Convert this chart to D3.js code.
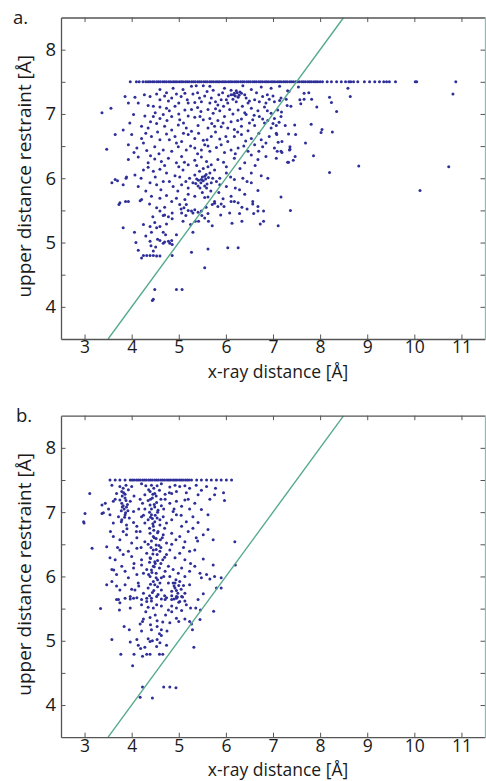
<!DOCTYPE html>
<html>
<head>
<meta charset="utf-8">
<script src="https://cdn.jsdelivr.net/npm/d3@7"></script>
<style>
  body { margin: 0; background: #fff; }
  svg { display: block; font-family: "Open Sans", sans-serif; }
</style>
</head>
<body>
<svg id="chart" width="486" height="781"></svg>
<script>
// ---- data ----
var xTicks = [3, 4, 5, 6, 7, 8, 9, 10, 11];
var yTicks = [4, 4.5, 5, 5.5, 6, 6.5, 7, 7.5, 8];
var diagLine = [3.5, 8.5];   // y = x reference line
var capValue = 7.5;          // restraints capped at 7.5 Å

// panel a: points sitting on the 7.5 Å cap (x-ray distance)
var capA = [3.97,4.10,4.16,4.24,4.30,4.35,4.39,4.44,4.48,4.53,4.57,4.61,4.66,4.70,4.74,4.79,4.83,4.88,4.92,4.96,
  5.01,5.05,5.09,5.14,5.18,5.22,5.27,5.31,5.35,5.40,5.44,5.48,5.53,5.57,5.61,5.66,5.70,5.74,5.79,5.83,5.87,5.92,5.96,
  6.00,6.05,6.09,6.13,6.18,6.22,6.26,6.31,6.35,6.39,6.44,6.48,6.52,6.57,6.61,6.65,6.70,6.74,6.78,6.83,6.87,6.91,6.96,
  7.00,7.04,7.09,7.13,7.17,7.22,7.26,7.30,7.35,7.39,7.43,7.48,7.52,7.56,7.61,7.65,7.69,7.74,7.78,7.82,7.87,7.91,7.95,
  8.00,8.05,8.15,8.24,8.35,8.45,8.54,8.61,8.65,8.71,8.80,8.94,9.05,9.16,9.26,9.35,9.41,9.47,9.60,10.02,10.05,10.88];

// panel a: other points [x-ray distance, upper restraint]
var ptsA = [
  [4.60,7.38],[4.74,7.33],[4.88,7.40],[5.09,7.38],[5.27,7.43],[5.37,7.44],[5.52,7.44],[5.66,7.43],[5.73,7.37],[5.97,7.40],
  [6.11,7.37],[6.36,7.44],[6.54,7.38],[6.75,7.42],[6.96,7.40],[7.14,7.43],[7.31,7.36],
  [4.27,7.30],[4.53,7.31],[4.70,7.28],[4.95,7.31],[5.13,7.32],[5.30,7.31],[5.44,7.25],[5.55,7.28],[5.69,7.25],[5.78,7.19],
  [5.90,7.22],[6.11,7.30],[6.18,7.32],[6.26,7.26],[6.33,7.32],[6.43,7.25],[6.61,7.22],[6.78,7.27],[6.92,7.23],[7.03,7.19],[7.17,7.25],
  [3.86,7.27],[4.07,7.26],[4.39,7.27],[4.60,7.22],[4.85,7.25],[5.00,7.17],[5.20,7.17],[5.34,7.18],[5.48,7.19],[5.66,7.17],
  [5.83,7.14],[6.01,7.22],[6.04,7.17],[6.15,7.23],[6.22,7.19],[6.47,7.17],[6.71,7.19],[6.85,7.17],[7.14,7.21],[7.28,7.23],
  [3.93,7.17],[4.14,7.17],[4.35,7.13],[4.46,7.12],[4.60,7.11],[4.74,7.09],[4.92,7.12],[5.13,7.06],[5.27,7.07],[5.47,7.04],
  [5.62,7.07],[5.73,7.01],[5.87,7.05],[6.08,7.07],[6.26,7.06],[6.40,7.02],[6.54,7.09],[6.68,7.05],[6.82,7.11],[6.96,7.01],
  [7.10,7.06],[7.38,7.12],[3.37,7.02],[3.56,7.09],
  [4.04,6.99],[4.28,6.97],[4.46,6.96],[4.60,6.93],[4.67,6.99],[4.85,6.96],[5.02,6.91],[5.20,6.97],[5.34,6.95],[5.52,6.91],
  [5.66,6.93],[5.83,6.90],[5.97,6.96],[6.11,6.88],[6.33,6.92],[6.43,6.99],[6.57,6.91],[6.71,6.96],[6.89,6.90],[7.03,6.93],[7.17,6.96],
  [3.96,6.86],[4.21,6.81],[4.35,6.78],[4.53,6.85],[4.70,6.81],[4.85,6.75],[4.99,6.83],[5.16,6.78],[5.27,6.73],[5.41,6.82],
  [5.62,6.78],[5.76,6.81],[5.94,6.86],[6.04,6.78],[6.18,6.76],[6.33,6.81],[6.47,6.74],[6.61,6.82],[6.82,6.86],[6.96,6.78],
  [7.07,6.82],[3.82,6.75],[3.65,6.68],
  [4.00,6.68],[4.21,6.62],[4.42,6.65],[4.60,6.60],[4.74,6.69],[4.92,6.65],[5.06,6.57],[5.20,6.68],[5.34,6.62],[5.52,6.59],
  [5.69,6.65],[5.87,6.61],[6.04,6.57],[6.18,6.65],[6.33,6.68],[6.54,6.62],[6.75,6.60],[6.92,6.65],[7.07,6.70],
  [3.93,6.52],[4.11,6.47],[4.32,6.43],[4.49,6.49],[4.67,6.44],[4.85,6.42],[4.99,6.49],[5.16,6.44],[5.34,6.47],[5.48,6.44],
  [5.55,6.52],[5.66,6.42],[5.80,6.48],[5.97,6.40],[6.11,6.44],[6.26,6.47],[6.47,6.42],[6.61,6.52],[6.78,6.49],[7.03,6.47],
  [7.17,6.42],[7.35,6.44],[3.47,6.45],
  [3.93,6.29],[4.14,6.33],[4.35,6.24],[4.49,6.30],[4.63,6.26],[4.78,6.31],[4.95,6.24],[5.06,6.34],[5.20,6.21],[5.34,6.28],
  [5.48,6.33],[5.59,6.26],[5.69,6.21],[5.83,6.29],[6.01,6.18],[6.18,6.31],[6.40,6.24],[6.54,6.36],[6.68,6.29],[6.85,6.34],
  [7.07,6.31],[7.31,6.25],
  [3.65,5.98],[3.89,6.02],[4.07,6.05],[4.25,6.13],[4.35,6.17],[4.46,6.11],[4.60,6.14],[4.74,6.08],[4.92,6.04],[5.09,6.13],
  [5.23,6.00],[5.34,6.05],[5.44,6.11],[5.55,6.03],[5.66,6.08],[5.76,6.13],[5.87,6.00],[6.01,6.08],[6.18,5.98],[6.36,6.00],
  [6.54,6.08],[6.75,6.04],[6.89,6.00],
  [3.58,5.93],[3.82,5.90],[4.14,5.87],[4.39,5.93],[4.53,5.90],[4.67,5.95],[4.88,5.87],[5.06,5.90],[5.20,5.85],[5.30,5.93],
  [5.41,5.88],[5.48,5.98],[5.59,5.85],[5.69,5.93],[5.87,5.90],[6.01,5.87],[6.29,5.82],[6.54,5.93],[6.68,5.81],
  [3.75,5.62],[3.93,5.64],[4.21,5.67],[4.42,5.72],[4.60,5.69],[4.74,5.73],[4.85,5.64],[4.95,5.69],[5.02,5.59],[5.13,5.67],
  [5.34,5.72],[5.62,5.71],[5.76,5.64],[5.94,5.68],[6.11,5.72],[6.26,5.62],[6.57,5.64],[6.68,5.56],[7.17,5.71],
  [5.42,5.97],[5.47,5.93],[5.52,5.96],[5.57,5.99],[5.60,5.91],[5.38,5.99],[5.50,6.02],[5.63,6.01],[5.45,5.85],[5.55,5.88],
  [6.20,7.28],[6.24,7.33],[6.28,7.29],[6.22,7.36],[6.30,7.34],[6.16,7.30],[3.70,5.96],[3.88,6.00],
  [3.73,5.59],[3.87,5.64],[4.18,5.65],[4.53,5.54],[4.60,5.49],[4.70,5.43],[4.67,5.42],[4.86,5.46],[4.86,5.37],[5.06,5.46],
  [5.11,5.54],[5.16,5.59],[5.27,5.49],[5.30,5.46],[5.34,5.51],[5.41,5.47],[5.48,5.49],[5.49,5.42],[5.62,5.45],[5.71,5.59],
  [5.76,5.61],[5.83,5.56],[5.89,5.43],[5.96,5.56],[6.08,5.46],[6.11,5.64],[6.18,5.64],[6.29,5.45],[6.34,5.55],[6.45,5.52],
  [6.57,5.60],[6.59,5.45],[6.68,5.49],[6.80,5.49],[7.37,5.50],
  [3.82,5.23],[4.06,5.16],[4.25,5.28],[4.39,5.25],[4.42,5.16],[4.49,5.31],[4.53,5.23],[4.60,5.25],[4.67,5.16],[4.74,5.29],
  [4.95,5.12],[5.09,5.33],[5.25,5.28],[5.30,5.16],[5.35,5.33],[5.42,5.33],[5.63,5.33],[5.71,5.26],[6.13,5.30],[6.34,5.33],
  [6.73,5.29],[6.80,5.33],[7.11,5.26],
  [4.09,5.00],[4.14,4.88],[4.39,5.02],[4.41,4.95],[4.46,4.87],[4.51,4.93],[4.60,5.03],[4.67,4.99],[4.70,5.01],[4.78,5.02],
  [4.81,4.99],[4.85,5.03],[4.86,4.97],[4.21,4.76],[4.25,4.80],[4.32,4.80],[4.39,4.80],[4.46,4.80],[4.53,4.79],[4.60,4.79],
  [4.86,4.80],[5.27,4.85],[5.62,4.90],[6.04,4.92],[6.26,4.92],[5.55,4.61],[4.49,4.27],[4.95,4.27],[5.07,4.27],[4.46,4.12],[4.44,4.10],
  [10.82,7.31],[8.59,7.40],[8.64,7.27],[8.20,7.26],[8.24,7.18],[7.93,7.11],[8.35,7.04],[7.81,6.84],[8.04,6.76],[8.02,6.71],
  [8.26,6.72],[7.69,6.55],[7.86,6.35],[8.20,6.09],[8.82,6.19],[10.73,6.18],[10.12,5.81],[7.47,6.34],[7.43,6.28],[7.33,6.25],
  [7.36,6.49],[7.36,6.45],[7.26,6.82],[7.46,6.83],[7.48,6.68],[7.33,6.69],[7.66,7.32],[7.76,7.33],[7.82,7.23],[7.66,7.23],
  [7.57,7.22],[7.59,7.16],[7.30,7.13],[7.18,7.03],[7.13,6.87],[7.08,6.68],[7.11,6.56],[7.19,6.57],[7.09,6.42],[7.19,6.40],
  [7.54,7.42],[7.34,7.35],
  [4.78,7.20],[5.05,7.27],[5.18,7.22],[5.40,7.33],[5.60,7.35],[5.85,7.30],[5.93,7.33],[6.05,7.28],[6.40,7.30],[6.50,7.20],
  [6.65,7.33],[6.88,7.30],[7.00,7.28],[4.50,7.02],[4.80,7.05],[5.00,7.00],[5.40,7.10],[5.78,7.08],[5.95,7.12],[6.15,7.00],
  [6.35,7.12],[6.60,6.98],[6.88,7.05],[4.40,6.88],[4.75,6.90],[5.10,6.86],[5.45,6.96],[5.70,6.85],[5.90,6.80],[6.25,6.90],
  [6.50,6.86],[6.78,6.92],[7.00,6.85],[4.30,6.70],[4.55,6.72],[4.80,6.60],[5.10,6.70],[5.42,6.70],[5.60,6.60],[5.78,6.72],
  [6.00,6.65],[6.25,6.72],[6.42,6.58],[6.70,6.70],[6.85,6.55],[4.25,6.55],[4.58,6.38],[4.95,6.55],[5.25,6.50],[5.40,6.38],
  [5.62,6.50],[5.90,6.52],[6.20,6.38],[6.38,6.50],[6.70,6.42],[4.05,6.40],[4.40,6.35],[4.70,6.20],[5.00,6.18],[5.12,6.25],
  [5.38,6.20],[5.52,6.15],[5.62,6.18],[5.95,6.25],[6.30,6.15],[6.62,6.20],[4.20,6.00],[4.50,6.02],[4.80,5.95],[5.02,6.02],
  [5.15,5.95],[5.36,5.92],[5.58,6.06],[5.72,6.00],[5.80,5.95],[6.10,6.02],[6.45,5.95],[4.30,5.80],[4.62,5.82],[4.98,5.80],
  [5.20,5.75],[5.50,5.78],[5.55,5.70],[5.68,5.80],[5.85,5.78],[6.20,5.85],[6.40,5.75],[4.38,5.60],[4.70,5.55],[5.05,5.52],
  [5.20,5.50],[5.58,5.55],[5.90,5.60],[4.45,5.40],[4.78,5.40],[5.15,5.42],[5.55,5.38],[4.30,5.10],[4.55,5.05],[4.72,5.12]
];

// panel b: points on the cap
var capB = [3.54,3.65,3.75,3.86,3.97,4.01,4.05,4.10,4.14,4.18,4.23,4.27,4.31,4.36,4.40,4.44,4.49,4.53,4.57,4.62,
  4.66,4.70,4.75,4.79,4.83,4.88,4.92,4.96,5.01,5.05,5.09,5.14,5.18,5.22,5.27,5.38,5.48,5.59,5.69,5.80,5.90,6.01,6.12];

// panel b: other points
var ptsB = [
  [3.58,7.42],[3.75,7.40],[3.82,7.37],[3.88,7.42],[4.00,7.40],[4.21,7.44],[4.30,7.41],[4.42,7.42],[4.47,7.37],[4.54,7.41],
  [4.63,7.44],[4.81,7.39],[4.92,7.42],[5.02,7.40],[5.13,7.41],[5.23,7.37],[5.37,7.42],[5.59,7.40],[5.78,7.37],[5.95,7.30],
  [3.11,7.29],[3.68,7.29],[3.79,7.32],[3.86,7.28],[3.93,7.35],[4.28,7.27],[4.39,7.32],[4.49,7.29],[4.59,7.34],[4.71,7.28],
  [4.85,7.29],[4.95,7.32],[5.16,7.30],[5.41,7.27],[5.48,7.34],[5.76,7.27],
  [3.37,7.11],[3.44,7.14],[3.51,7.05],[3.61,7.17],[3.75,7.19],[3.79,7.14],[3.82,7.10],[3.86,7.22],[3.89,7.08],[3.97,7.17],
  [4.04,7.01],[4.18,7.20],[4.23,7.14],[4.28,7.05],[4.35,7.18],[4.39,7.11],[4.44,7.22],[4.49,7.08],[4.53,7.15],[4.56,7.03],
  [4.63,7.10],[4.71,7.20],[4.81,7.14],[4.88,7.01],[4.95,7.17],[5.06,7.09],[5.13,7.19],[5.23,7.05],[5.34,7.14],[5.48,7.04],
  [5.66,7.20],[5.97,7.18],[3.40,6.99],[3.01,6.98],[2.98,6.85],[3.37,6.98],[2.99,6.83],
  [3.54,6.96],[3.61,6.83],[3.72,6.93],[3.79,6.88],[3.86,6.96],[3.89,6.80],[3.95,6.91],[4.04,6.84],[4.11,6.78],[4.21,6.93],
  [4.28,6.83],[4.35,6.88],[4.42,6.96],[4.46,6.78],[4.49,6.85],[4.54,6.91],[4.60,6.80],[4.67,6.93],[4.74,6.83],[4.85,6.88],
  [4.95,6.96],[5.06,6.78],[5.16,6.85],[5.30,6.93],[5.41,6.84],[5.62,6.96],
  [3.61,6.62],[3.75,6.57],[3.82,6.70],[3.89,6.65],[4.00,6.52],[4.11,6.60],[4.18,6.70],[4.28,6.54],[4.39,6.67],[4.46,6.62],
  [4.52,6.49],[4.56,6.70],[4.61,6.57],[4.67,6.65],[4.74,6.52],[4.85,6.67],[4.94,6.57],[5.02,6.62],[5.13,6.54],[5.20,6.70],
  [5.37,6.60],[5.52,6.65],[5.62,6.73],[5.73,6.57],[6.19,6.54],[3.16,6.44],[3.47,6.46],
  [3.54,6.29],[3.65,6.26],[3.75,6.41],[3.82,6.34],[3.93,6.39],[4.00,6.31],[4.11,6.44],[4.21,6.26],[4.32,6.36],[4.39,6.29],
  [4.46,6.41],[4.49,6.23],[4.54,6.34],[4.60,6.39],[4.66,6.26],[4.74,6.34],[4.81,6.41],[4.92,6.29],[5.02,6.36],[5.13,6.26],
  [5.23,6.39],[5.34,6.41],[5.52,6.27],[5.73,6.18],[6.20,6.18],
  [3.58,6.11],[3.68,6.03],[3.79,6.16],[3.86,6.08],[3.93,5.98],[4.04,6.13],[4.11,6.03],[4.21,6.18],[4.32,6.11],[4.39,6.00],
  [4.46,6.16],[4.52,6.05],[4.59,6.13],[4.63,5.98],[4.71,6.08],[4.78,6.16],[4.81,6.00],[4.88,6.11],[4.94,5.95],[4.99,6.05],
  [5.06,6.13],[5.13,6.00],[5.23,6.08],[5.34,6.16],[5.48,5.98],[5.59,6.03],[5.66,5.96],[5.76,6.00],[5.90,5.98],
  [3.47,5.87],[3.58,5.92],[3.75,5.79],[3.86,5.87],[3.97,5.69],[4.07,5.79],[4.14,5.90],[4.25,5.74],[4.35,5.82],[4.42,5.66],
  [4.49,5.87],[4.56,5.72],[4.63,5.79],[4.71,5.64],[4.78,5.90],[4.85,5.77],[4.90,5.85],[4.95,5.69],[5.02,5.61],[5.13,5.74],
  [5.23,5.87],[5.52,5.73],[5.80,5.82],[5.90,5.82],[3.72,5.64],[4.04,5.66],[4.32,5.61],
  [3.80,7.25],[3.84,7.05],[3.87,6.99],[3.78,7.02],[3.91,7.12],[4.38,7.00],[4.44,6.90],[4.47,6.72],[4.52,6.59],[4.41,6.45],
  [4.50,6.20],[4.43,6.06],[4.55,5.95],[4.47,5.78],[4.38,6.22],[4.58,6.48],[4.95,5.78],[5.00,5.86],[4.97,5.68],[5.05,5.80],[4.92,5.90],
  [3.68,5.64],[3.75,5.59],[3.86,5.66],[3.97,5.65],[4.11,5.67],[4.21,5.64],[4.32,5.66],[4.42,5.62],[4.53,5.69],[4.63,5.65],
  [4.74,5.67],[4.85,5.64],[4.95,5.66],[5.06,5.69],[5.13,5.62],[5.41,5.64],
  [3.34,5.50],[3.74,5.48],[3.97,5.51],[4.21,5.56],[4.35,5.52],[4.46,5.51],[4.53,5.56],[4.63,5.54],[4.78,5.48],[4.85,5.54],
  [4.95,5.51],[5.06,5.47],[5.16,5.56],[5.25,5.51],[5.36,5.51],[5.46,5.48],[5.74,5.46],
  [4.25,5.34],[4.23,5.30],[4.39,5.36],[4.54,5.31],[4.66,5.29],[4.81,5.28],[4.95,5.35],[5.13,5.34],[5.23,5.30],[5.45,5.33],
  [3.84,5.22],[3.95,5.17],[4.18,5.26],[4.42,5.17],[4.54,5.22],[4.63,5.17],[5.27,5.26],[5.29,5.17],
  [3.58,5.02],[3.97,4.98],[4.11,5.02],[4.21,5.15],[4.35,5.03],[4.39,4.99],[4.44,5.00],[4.54,5.02],[4.59,5.11],[4.63,5.08],
  [4.74,4.93],[4.14,4.93],[4.19,4.88],[4.28,4.90],[4.53,4.91],
  [3.77,4.79],[4.05,4.79],[4.23,4.76],[4.32,4.79],[4.39,4.79],[4.59,4.79],[4.66,4.79],[5.32,4.90],[4.02,4.61],
  [4.23,4.28],[4.68,4.28],[4.81,4.28],[4.94,4.27],[4.18,4.12],[4.44,4.11],
  [3.83,7.30],[3.88,7.18],[3.80,7.08],[3.92,7.02],[3.85,6.92],[3.78,6.85],[3.90,6.74],
  [4.36,7.35],[4.45,7.28],[4.40,7.20],[4.52,7.25],[4.48,7.12],[4.42,7.05],[4.55,7.00],[4.40,6.92],[4.50,6.95],[4.45,6.82],
  [4.38,6.75],[4.55,6.68],[4.48,6.60],[4.42,6.55],[4.35,6.50],[4.52,6.42],[4.45,6.35],[4.40,6.28],[4.55,6.25],[4.48,6.15],
  [4.42,6.10],[4.36,6.03],[4.52,5.98],[4.46,5.92],[4.40,5.88],[4.55,5.84],[4.44,5.75],[4.38,5.70],
  [4.62,7.20],[4.68,7.05],[4.60,6.88],[4.70,6.75],[4.65,6.60],[4.62,6.45],[4.70,6.30],[4.62,6.20],[4.68,6.00],[4.60,5.90],[4.70,5.70],
  [4.88,5.90],[4.92,5.82],[4.98,5.74],[5.02,5.92],[5.08,5.68],[4.90,5.65],[5.10,5.86],[4.85,5.70],[5.00,5.60],
  [4.05,7.25],[4.15,7.05],[4.25,6.95],[4.10,6.70],[4.20,6.45],[4.05,6.20],[4.25,6.05],[4.15,5.85],[4.00,5.80],
  [4.80,7.30],[4.90,7.05],[5.05,6.95],[5.20,7.20],[5.30,6.75],[5.10,6.45],[5.25,6.20],[4.85,6.50],[5.40,6.55],[5.45,6.05],
  [3.65,7.20],[3.55,6.70],[3.70,6.45],[3.62,6.10],[3.68,5.85],
  [4.30,5.45],[4.50,5.40],[4.72,5.40],[4.85,5.45],[5.00,5.30],[4.40,5.25],[4.75,5.15],[4.60,4.97]
];

// ---- layout ----
var svg = d3.select("#chart");
var left = 61, right = 485,
    panelH = 321.5;
var panels = [
  {label: "a.", cap: capA, pts: ptsA, top: 17.5},
  {label: "b.", cap: capB, pts: ptsB, top: 415.7}
];

var x = d3.scaleLinear().domain([2.5, 11.5]).range([left, right]);

var axisColor = "#555",
    textColor = "#1a1a1a",
    dotColor = "#2f2f99",
    lineColor = "#55aa8c";

panels.forEach(function(p, i){
  var bottom = p.top + panelH;
  var y = d3.scaleLinear().domain([3.5, 8.5]).range([bottom, p.top]);
  var g = svg.append("g");

  var clipId = "clip" + i;
  g.append("clipPath").attr("id", clipId)
    .append("rect")
      .attr("x", left).attr("y", p.top)
      .attr("width", right - left).attr("height", panelH);

  var marks = g.append("g").attr("clip-path", "url(#" + clipId + ")");

  // all points, cap row first
  var all = p.cap.map(function(v){ return [v, capValue]; }).concat(p.pts);
  marks.selectAll("circle")
    .data(all)
    .enter().append("circle")
      .attr("cx", function(d){ return x(d[0]); })
      .attr("cy", function(d){ return y(d[1]); })
      .attr("r", 1.5)
      .attr("fill", dotColor);

  // y = x line
  marks.append("line")
    .attr("x1", x(diagLine[0])).attr("y1", y(diagLine[0]))
    .attr("x2", x(diagLine[1])).attr("y2", y(diagLine[1]))
    .attr("stroke", lineColor)
    .attr("stroke-width", 1.4);

  // axes (MATLAB style: ticks inside, box all round)
  var fmtInt = function(d){ return Number.isInteger(d) ? d : ""; };

  var xb = g.append("g")
    .attr("transform", "translate(0," + bottom + ")")
    .call(d3.axisBottom(x).tickValues(xTicks).tickSizeInner(-4.5).tickSizeOuter(0).tickPadding(2));
  var xt = g.append("g")
    .attr("transform", "translate(0," + p.top + ")")
    .call(d3.axisTop(x).tickValues(xTicks).tickSizeInner(-4.5).tickSizeOuter(0).tickFormat(""));
  var yl = g.append("g")
    .attr("transform", "translate(" + left + ",0)")
    .call(d3.axisLeft(y).tickValues(yTicks).tickSizeInner(-4.5).tickSizeOuter(0).tickPadding(5).tickFormat(fmtInt));
  var yr = g.append("g")
    .attr("transform", "translate(" + right + ",0)")
    .call(d3.axisRight(y).tickValues(yTicks).tickSizeInner(-4.5).tickSizeOuter(0).tickFormat(""));

  [xb, xt, yl, yr].forEach(function(a){
    a.select(".domain").attr("stroke", axisColor).attr("stroke-width", 1.3);
    a.selectAll(".tick line").attr("stroke", axisColor).attr("stroke-width", 1);
    a.selectAll(".tick text")
      .attr("fill", textColor)
      .style("font-family", "'Open Sans', sans-serif")
      .style("font-size", "17.5px");
  });
  yl.selectAll(".tick text").style("font-size", "18.5px");
  yr.select(".domain").attr("stroke", "#9bb5b0");

  // titles
  g.append("text")
    .attr("x", (left + right) / 2 + 5)
    .attr("y", bottom + 38.5)
    .attr("text-anchor", "middle")
    .attr("fill", textColor)
    .style("font-size", "17.5px")
    .text("x-ray distance [Å]");

  g.append("text")
    .attr("transform", "translate(31," + (p.top + panelH / 2 - 2) + ") rotate(-90)")
    .attr("text-anchor", "middle")
    .attr("fill", textColor)
    .style("font-size", "19px")
    .text("upper distance restraint [Å]");

  g.append("text")
    .attr("x", i === 0 ? 13 : 16)
    .attr("y", p.top + 6.5)
    .attr("fill", textColor)
    .style("font-size", "18.5px")
    .text(p.label);
});
</script>
</body>
</html>
